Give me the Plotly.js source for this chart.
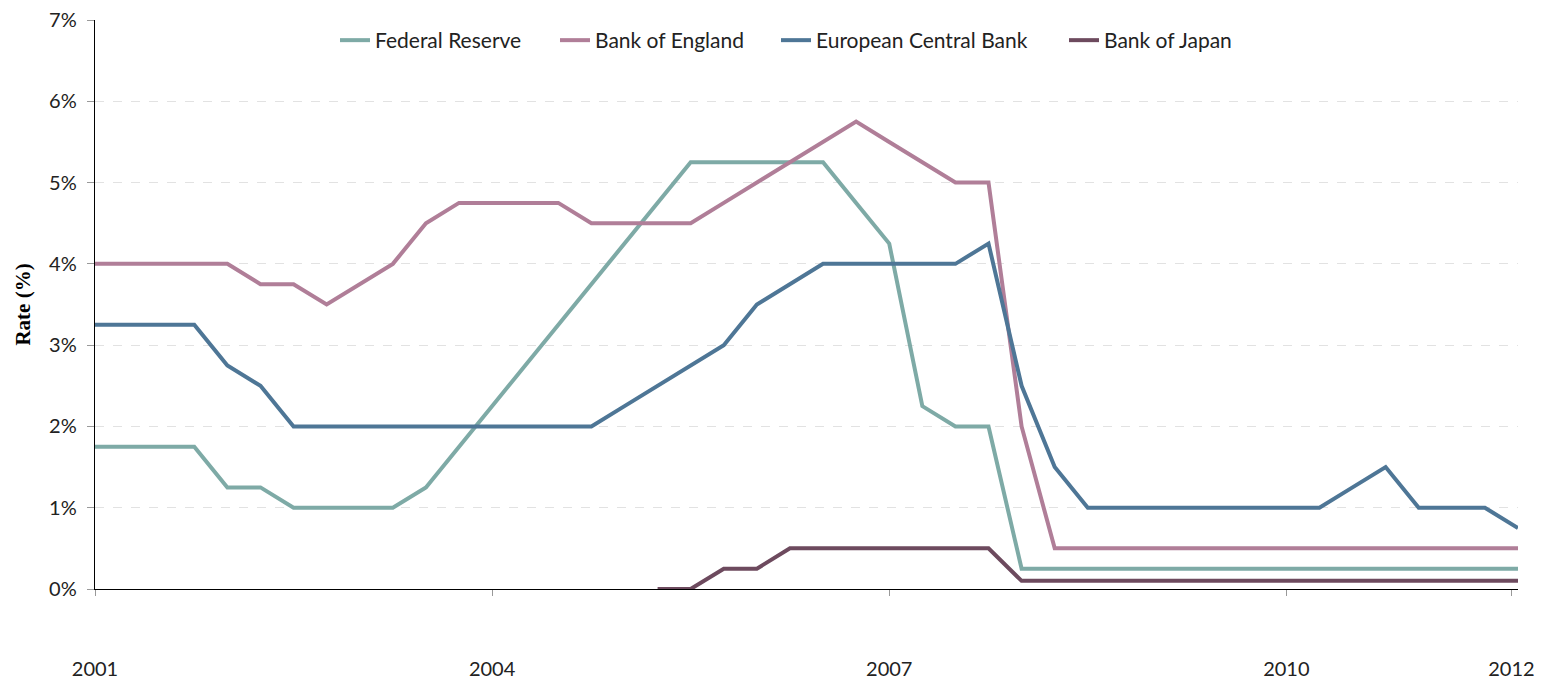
<!DOCTYPE html>
<html>
<head>
<meta charset="utf-8">
<script src="https://cdn.plot.ly/plotly-3.0.1.min.js"></script>
<style>html,body{margin:0;padding:0;background:#fff;}#chart{width:1543px;height:682px;}</style>
</head>
<body>
<div id="chart"></div>
<script>
// Quarterly observations, 2001 Q1 .. 2011 Q4 (44 points)
const quarters = [
  "2001Q1","2001Q2","2001Q3","2001Q4","2002Q1","2002Q2","2002Q3","2002Q4",
  "2003Q1","2003Q2","2003Q3","2003Q4","2004Q1","2004Q2","2004Q3","2004Q4",
  "2005Q1","2005Q2","2005Q3","2005Q4","2006Q1","2006Q2","2006Q3","2006Q4",
  "2007Q1","2007Q2","2007Q3","2007Q4","2008Q1","2008Q2","2008Q3","2008Q4",
  "2009Q1","2009Q2","2009Q3","2009Q4","2010Q1","2010Q2","2010Q3","2010Q4",
  "2011Q1","2011Q2","2011Q3","2011Q4"
];
const fedReserve = [
  1.75,1.75,1.75,1.75,1.25,1.25,1.0,1.0,
  1.0,1.0,1.25,1.75,2.25,2.75,3.25,3.75,
  4.25,4.75,5.25,5.25,5.25,5.25,5.25,4.75,
  4.25,2.25,2.0,2.0,0.25,0.25,0.25,0.25,
  0.25,0.25,0.25,0.25,0.25,0.25,0.25,0.25,
  0.25,0.25,0.25,0.25
];
const bankOfEngland = [
  4.0,4.0,4.0,4.0,4.0,3.75,3.75,3.5,
  3.75,4.0,4.5,4.75,4.75,4.75,4.75,4.5,
  4.5,4.5,4.5,4.75,5.0,5.25,5.5,5.75,
  5.5,5.25,5.0,5.0,2.0,0.5,0.5,0.5,
  0.5,0.5,0.5,0.5,0.5,0.5,0.5,0.5,
  0.5,0.5,0.5,0.5
];
const ecb = [
  3.25,3.25,3.25,3.25,2.75,2.5,2.0,2.0,
  2.0,2.0,2.0,2.0,2.0,2.0,2.0,2.0,
  2.25,2.5,2.75,3.0,3.5,3.75,4.0,4.0,
  4.0,4.0,4.0,4.25,2.5,1.5,1.0,1.0,
  1.0,1.0,1.0,1.0,1.0,1.0,1.25,1.5,
  1.0,1.0,1.0,0.75
];
const bankOfJapan = [
  null,null,null,null,null,null,null,null,
  null,null,null,null,null,null,null,null,
  null,0.0,0.0,0.25,0.25,0.5,0.5,0.5,
  0.5,0.5,0.5,0.5,0.1,0.1,0.1,0.1,
  0.1,0.1,0.1,0.1,0.1,0.1,0.1,0.1,
  0.1,0.1,0.1,0.1
];
const tickIndex = [0, 12, 24, 36, 42.8];
const tickLabels = ["2001", "2004", "2007", "2010", "2012"];
const yTicks = [0,1,2,3,4,5,6,7];
const yTickLabels = ["0%","1%","2%","3%","4%","5%","6%","7%"];

const xIdx = quarters.map((q, i) => i);
const seriesDefs = [
  {name: "Federal Reserve", y: fedReserve, color: "#7eaaa6", legend: "legend", lx: 335},
  {name: "Bank of England", y: bankOfEngland, color: "#b07e98", legend: "legend2", lx: 555},
  {name: "European Central Bank", y: ecb, color: "#4e7696", legend: "legend3", lx: 776},
  {name: "Bank of Japan", y: bankOfJapan, color: "#6d4a5e", legend: "legend4", lx: 1064}
];
const traces = seriesDefs.map(s => ({
  type: "scatter", mode: "lines", name: s.name, legend: s.legend,
  x: xIdx, y: s.y, text: quarters,
  line: {color: s.color, width: 4, shape: "linear"},
  connectgaps: false, cliponaxis: false
}));

const fontFam = "Lato, 'Open Sans', sans-serif";
const plotL = 95, plotR = 1518;
const layout = {
  width: 1543, height: 682,
  margin: {l: plotL, r: 1543 - plotR, t: 20, b: 93},
  paper_bgcolor: "#fff", plot_bgcolor: "#fff",
  font: {family: fontFam, size: 20, color: "#222"},
  showlegend: true,
  xaxis: {
    range: [0, 43], showgrid: false, zeroline: false,
    tickmode: "array", tickvals: tickIndex, ticktext: tickLabels,
    ticks: "outside", ticklen: 6, tickcolor: "#999", tickwidth: 1,
    showline: true, linecolor: "#000", linewidth: 1.3,
    ticklabelstandoff: 56,
    tickfont: {family: fontFam, size: 20, color: "#222"}
  },
  yaxis: {
    range: [0, 7], zeroline: false,
    tickmode: "array", tickvals: yTicks, ticktext: yTickLabels,
    ticks: "outside", ticklen: 7, tickcolor: "#999", tickwidth: 1,
    showline: true, linecolor: "#000", linewidth: 1.3,
    showgrid: true, gridcolor: "#e2e2e2", griddash: "dash", gridwidth: 1,
    ticklabelstandoff: 6,
    tickfont: {family: fontFam, size: 20, color: "#222"},
    title: {text: "<b>Rate (%)</b>", standoff: 12,
            font: {family: "'Liberation Serif', serif", size: 21, color: "#000"}}
  }
};
seriesDefs.forEach(s => {
  layout[s.legend] = {
    orientation: "h", x: (s.lx - plotL) / (plotR - plotL), xanchor: "left",
    y: 1.0, yanchor: "top",
    font: {family: fontFam, size: 21, color: "#222"},
    bgcolor: "rgba(0,0,0,0)", itemwidth: 30
  };
});
Plotly.newPlot("chart", traces, layout, {displayModeBar: false, staticPlot: true});
</script>
</body>
</html>
